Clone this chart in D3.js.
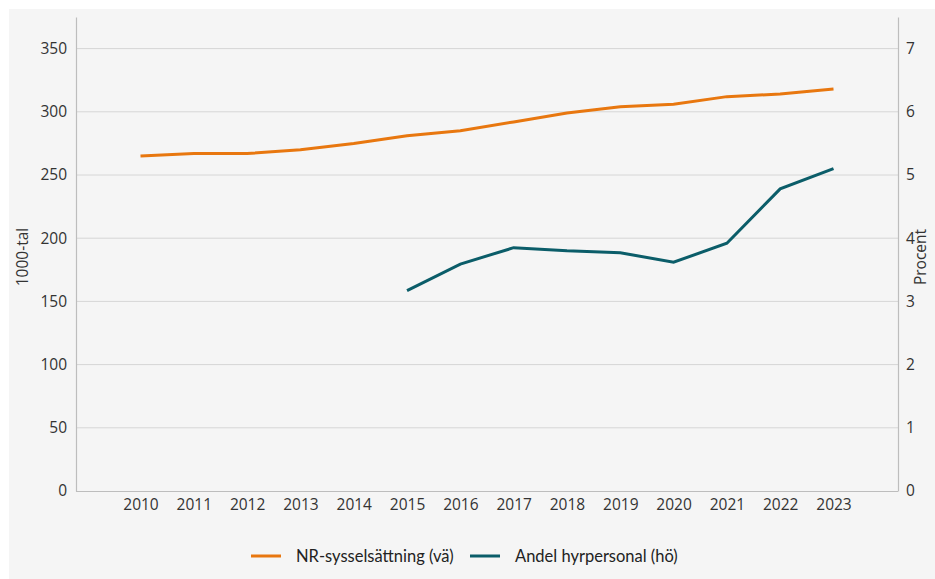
<!DOCTYPE html>
<html><head><meta charset="utf-8">
<script src="https://cdn.jsdelivr.net/npm/d3@7"></script>
<style>body{margin:0;background:#fff}svg{display:block}</style>
</head><body><svg id="c" width="935" height="579"></svg>
<script>
const years = ["2010","2011","2012","2013","2014","2015","2016","2017","2018","2019","2020","2021","2022","2023"];
const nrSyssel = [265,267,267,270,275,281,285,292,299,304,306,312,314,318];
const hyrYears = ["2015","2016","2017","2018","2019","2020","2021","2022","2023"];
const hyrAndel = [3.17,3.59,3.85,3.80,3.77,3.62,3.92,4.78,5.10];
const leftTicks = [0,50,100,150,200,250,300,350];
const rightTicks = [0,1,2,3,4,5,6,7];
const seriesNames = ["NR-sysselsättning (vä)","Andel hyrpersonal (hö)"];
const colors = ["#e8770f","#0b5d69"];

const svg = d3.select("#c");
svg.append("rect").attr("x",9).attr("y",9).attr("width",926).attr("height",570).attr("fill","#f5f5f5");
const L=76,R=898,T=17,B=491;
const x = d3.scalePoint().domain(years).range([L,R]).padding(1.21);
const yL = d3.scaleLinear().domain([0,375]).range([B,T]);
const yR = d3.scaleLinear().domain([0,7.5]).range([B,T]);
const font = "'Open Sans', sans-serif";

svg.append("g").selectAll("line").data(leftTicks.filter(d=>d>0)).join("line")
  .attr("x1",L).attr("x2",R).attr("y1",d=>yL(d)).attr("y2",d=>yL(d))
  .attr("stroke","#d6d6d6").attr("stroke-width",1);

const axL = svg.append("g").attr("transform",`translate(${L},0)`)
  .call(d3.axisLeft(yL).tickValues(leftTicks).tickSize(0).tickPadding(9));
const axR = svg.append("g").attr("transform",`translate(${R},0)`)
  .call(d3.axisRight(yR).tickValues(rightTicks).tickSize(0).tickPadding(8));
const axB = svg.append("g").attr("transform",`translate(0,${B})`)
  .call(d3.axisBottom(x).tickSize(0).tickPadding(8));
axB.select(".domain").attr("d",`M${L},0.5H${R}`);
[axL,axR,axB].forEach(a=>{
  a.select(".domain").attr("stroke","#bdbdbd").attr("stroke-width",1.2);
  a.selectAll("text").attr("font-family",font).attr("font-size",15.5).attr("fill","#333");
});

svg.append("text").attr("transform",`translate(28,${(T+B)/2+3}) rotate(-90)`)
  .attr("text-anchor","middle").attr("font-family",font).attr("font-size",15.5).attr("fill","#333").text("1000-tal");
svg.append("text").attr("transform",`translate(926,${(T+B)/2+3}) rotate(-90)`)
  .attr("text-anchor","middle").attr("font-family",font).attr("font-size",15.5).attr("fill","#333").text("Procent");

const line1 = d3.line().x((d,i)=>x(years[i])).y(d=>yL(d));
svg.append("path").datum(nrSyssel).attr("d",line1).attr("fill","none")
  .attr("stroke",colors[0]).attr("stroke-width",3);
const line2 = d3.line().x((d,i)=>x(hyrYears[i])).y(d=>yR(d));
svg.append("path").datum(hyrAndel).attr("d",line2).attr("fill","none")
  .attr("stroke",colors[1]).attr("stroke-width",3);

const lg = svg.append("g");
const lx = [251,470];
seriesNames.forEach((n,i)=>{
  lg.append("line").attr("x1",lx[i]).attr("x2",lx[i]+30).attr("y1",556).attr("y2",556)
    .attr("stroke",colors[i]).attr("stroke-width",3);
  lg.append("text").attr("x",lx[i]+45).attr("y",562).attr("font-family","Lato, sans-serif")
    .attr("font-size",16.5).attr("fill","#222").text(n);
});
</script></body></html>
